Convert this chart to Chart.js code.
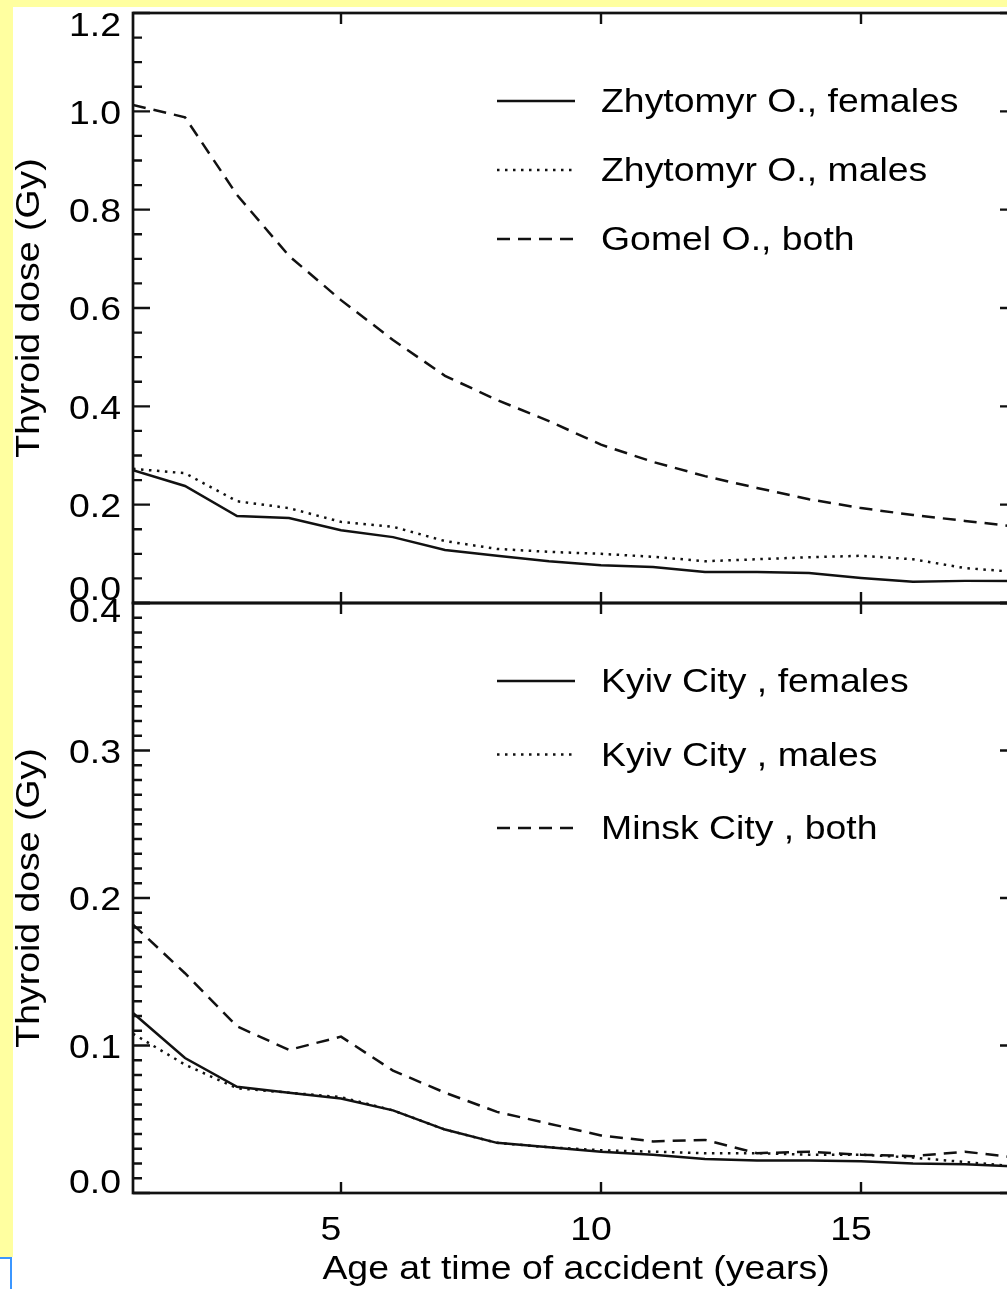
<!DOCTYPE html>
<html>
<head>
<meta charset="utf-8">
<title>Thyroid dose by age at time of accident</title>
<script src="https://cdn.jsdelivr.net/npm/chart.js@4.4.1/dist/chart.umd.min.js"></script>
<style>
    html, body { margin: 0; padding: 0; background: #fff; overflow: hidden; width: 1007px; height: 1289px; }
    .band-top { position: absolute; left: 0; top: 0; width: 1007px; height: 7px; background: #ffffa0; }
    .band-left { position: absolute; left: 0; top: 0; width: 13px; height: 1257px; background: #ffffa0; }
    .corner { position: absolute; left: 0; top: 1257px; width: 10px; height: 40px; border-top: 2px solid #3b96ff; border-right: 2px solid #3b96ff; }
    canvas { position: absolute; left: 0; top: 0; }
</style>
</head>
<body>
<div class="band-top"></div>
<div class="band-left"></div>
<div class="corner"></div>
<canvas id="topChart" width="1030" height="1289"></canvas>
<canvas id="bottomChart" width="1030" height="1289"></canvas>
<script>
// age at time of accident (years)
const ages = [1, 2, 3, 4, 5, 6, 7, 8, 9, 10, 11, 12, 13, 14, 15, 16, 17, 18];

// upper panel, Gy
const zhytomyrFemales = [0.270, 0.238, 0.177, 0.173, 0.148, 0.134, 0.108, 0.096, 0.085, 0.077, 0.073, 0.063, 0.063, 0.061, 0.051, 0.043, 0.045, 0.045];
const zhytomyrMales = [0.273, 0.264, 0.207, 0.193, 0.165, 0.155, 0.126, 0.110, 0.104, 0.100, 0.094, 0.085, 0.089, 0.093, 0.096, 0.089, 0.071, 0.063];
const gomelBoth = [1.013, 0.988, 0.830, 0.706, 0.616, 0.535, 0.462, 0.413, 0.370, 0.322, 0.287, 0.258, 0.234, 0.211, 0.193, 0.179, 0.167, 0.155];

// lower panel, Gy
const kyivFemales = [0.122, 0.0915, 0.072, 0.068, 0.064, 0.056, 0.043, 0.034, 0.031, 0.028, 0.026, 0.023, 0.022, 0.022, 0.0215, 0.020, 0.0195, 0.018];
const kyivMales = [0.108, 0.087, 0.071, 0.068, 0.065, 0.056, 0.043, 0.034, 0.031, 0.029, 0.028, 0.027, 0.027, 0.026, 0.026, 0.024, 0.021, 0.018];
const minskBoth = [0.182, 0.149, 0.113, 0.097, 0.106, 0.083, 0.068, 0.055, 0.047, 0.039, 0.035, 0.036, 0.027, 0.028, 0.026, 0.025, 0.028, 0.024];

// ticks
const xTicks = [5, 10, 15];
const xTickLabels = ['5', '10', '15'];
const yTicksTop = [0, 0.2, 0.4, 0.6, 0.8, 1.0, 1.2];
const yTickLabelsTop = ['0.0', '0.2', '0.4', '0.6', '0.8', '1.0', '1.2'];
const yTicksBottom = [0, 0.1, 0.2, 0.3, 0.4];
const yTickLabelsBottom = ['0.0', '0.1', '0.2', '0.3', '0.4'];

const ink = '#000';
const FONT = '"Liberation Sans", Arial, Helvetica, sans-serif';
const FONT_SIZE = 34;
const STRETCH = 1.1; // the original lettering is a bit wider than Arial
const SOLID = [];
const DOTTED = [2.5, 5.5];
const DASHED = [13, 8];

function series(label, values, dash) {
    return {
        label: label,
        data: ages.map((a, i) => ({x: a, y: values[i]})),
        borderDash: dash,
        borderColor: '#111',
        borderWidth: 2.5,
        borderCapStyle: 'butt',
        pointRadius: 0,
        tension: 0,
        fill: false
    };
}

// text with baseline at (x, y), widened horizontally
function drawText(ctx, text, x, y, align, angle) {
    ctx.save();
    ctx.font = FONT_SIZE + 'px ' + FONT;
    ctx.textAlign = align;
    ctx.textBaseline = 'alphabetic';
    ctx.translate(x, y);
    if (angle) ctx.rotate(angle);
    ctx.scale(STRETCH, 1);
    ctx.fillText(text, 0, 0);
    ctx.restore();
}

// axes box, inward ticks, labels and the in-plot legend (IDL style)
function panelFrame(cfg) {
    const half = FONT_SIZE * 0.36;
    return {
        id: 'panelFrame',
        afterDatasetsDraw(chart) {
            const ctx = chart.ctx;
            const a = chart.chartArea;
            const x = chart.scales.x;
            const y = chart.scales.y;
            ctx.save();
            ctx.strokeStyle = '#111';
            ctx.fillStyle = ink;
            ctx.lineWidth = 2.7;
            ctx.setLineDash([]);
            ctx.strokeRect(a.left, a.top, a.right - a.left, a.bottom - a.top);

            ctx.lineWidth = 2.4;
            ctx.beginPath();
            const n = Math.round((y.max - y.min) / cfg.yMinor);
            for (let i = 0; i <= n; i++) {
                const py = y.getPixelForValue(y.min + i * cfg.yMinor);
                const len = i % cfg.minorPerMajor === 0 ? 17 : 9;
                ctx.moveTo(a.left, py);
                ctx.lineTo(a.left + len, py);
                ctx.moveTo(a.right, py);
                ctx.lineTo(a.right - len, py);
            }
            xTicks.forEach(v => {
                const px = x.getPixelForValue(v);
                ctx.moveTo(px, a.bottom);
                ctx.lineTo(px, a.bottom - 11);
                ctx.moveTo(px, a.top);
                ctx.lineTo(px, a.top + 11);
            });
            ctx.stroke();

            // y tick labels
            cfg.yTicks.forEach((v, i) => {
                let py = y.getPixelForValue(v);
                if (v === y.max) py += cfg.topShift;
                if (v === y.min) py -= cfg.bottomShift;
                drawText(ctx, cfg.yLabels[i], 121, py + half, 'right');
            });

            // y title
            drawText(ctx, 'Thyroid dose (Gy)', 39, (a.top + a.bottom) / 2, 'center', -Math.PI / 2);

            // legend
            chart.data.datasets.forEach((ds, i) => {
                const yc = cfg.legendTop + i * cfg.legendGap;
                ctx.beginPath();
                ctx.lineWidth = ds.borderWidth;
                ctx.setLineDash(ds.borderDash);
                ctx.moveTo(497, yc + 1);
                ctx.lineTo(575, yc + 1);
                ctx.stroke();
                ctx.setLineDash([]);
                drawText(ctx, ds.label, 601, yc + half, 'left');
            });

            if (cfg.xAxisText) {
                xTicks.forEach((v, i) => {
                    drawText(ctx, xTickLabels[i], x.getPixelForValue(v) - 10, 1240, 'center');
                });
                drawText(ctx, 'Age at time of accident (years)', 576, 1279, 'center');
            }
            ctx.restore();
        }
    };
}

function makeChart(id, datasets, yMax, cfg) {
    return new Chart(document.getElementById(id), {
        type: 'line',
        data: {datasets: datasets},
        options: {
            responsive: false,
            animation: false,
            layout: {padding: cfg.padding},
            plugins: {
                legend: {display: false},
                tooltip: {enabled: false}
            },
            scales: {
                x: {type: 'linear', display: false, min: 1, max: 18},
                y: {type: 'linear', display: false, min: 0, max: yMax}
            }
        },
        plugins: [panelFrame(cfg)]
    });
}

makeChart('topChart', [
    series('Zhytomyr O., females', zhytomyrFemales, SOLID),
    series('Zhytomyr O., males', zhytomyrMales, DOTTED),
    series('Gomel O., both', gomelBoth, DASHED)
], 1.2, {
    padding: {left: 133, top: 13, right: 13, bottom: 686},
    yMinor: 0.05, minorPerMajor: 4,
    yTicks: yTicksTop, yLabels: yTickLabelsTop,
    topShift: 11, bottomShift: 15,
    legendTop: 100, legendGap: 69,
    xAxisText: false
});

makeChart('bottomChart', [
    series('Kyiv City , females', kyivFemales, SOLID),
    series('Kyiv City , males', kyivMales, DOTTED),
    series('Minsk City , both', minskBoth, DASHED)
], 0.4, {
    padding: {left: 133, top: 603, right: 13, bottom: 96},
    yMinor: 0.01, minorPerMajor: 10,
    yTicks: yTicksBottom, yLabels: yTickLabelsBottom,
    topShift: 7, bottomShift: 12,
    legendTop: 680, legendGap: 73.5,
    xAxisText: true
});
</script>
</body>
</html>
